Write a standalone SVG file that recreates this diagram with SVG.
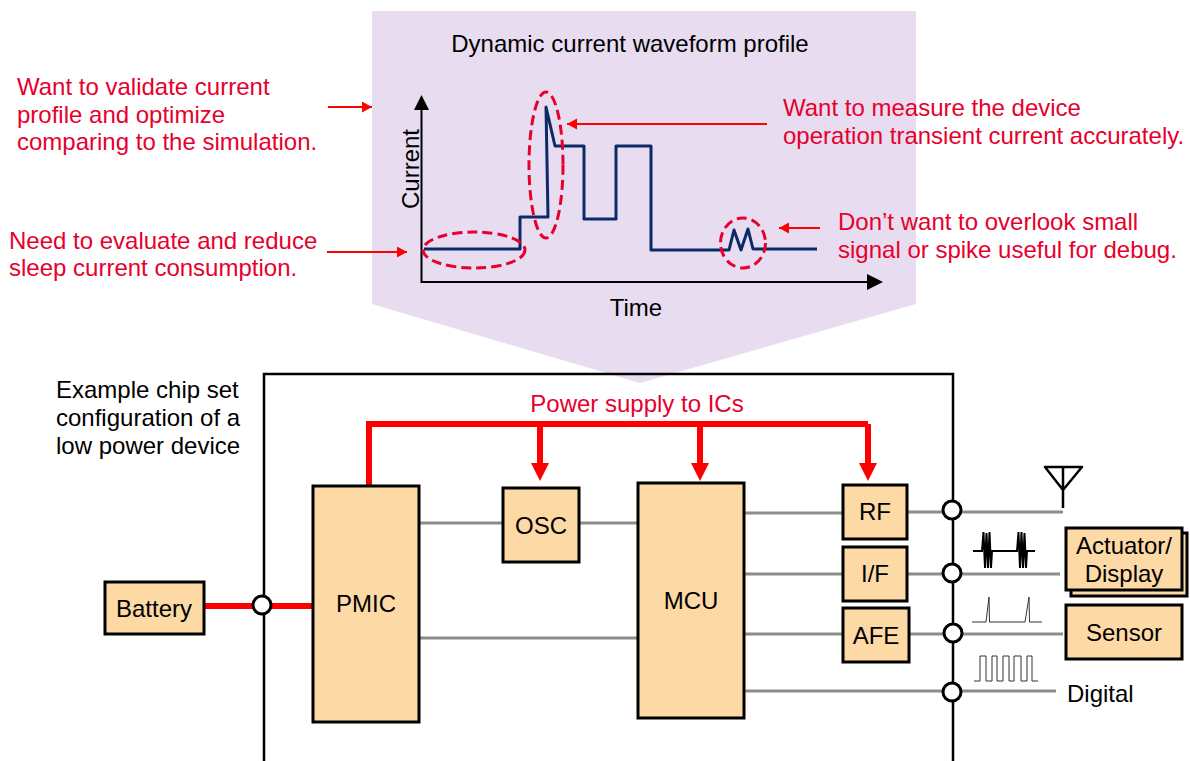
<svg xmlns="http://www.w3.org/2000/svg" width="1190" height="761" viewBox="0 0 1190 761">
<style>
text{font-family:"Liberation Sans",Arial,sans-serif;font-size:24px;fill:#000}
.r{fill:#e6002d}
.m{text-anchor:middle}
.box{fill:#fdd9a6;stroke:#000;stroke-width:3}
.g{stroke:#8c8c8c;stroke-width:3;fill:none}
.pw{stroke:#ff0000;stroke-width:6;fill:none}
.tr{stroke:#ff0000;stroke-width:2;fill:none}
.el{fill:none;stroke:#e6002d;stroke-width:3;stroke-dasharray:10 5}
.c{fill:#fff;stroke:#000;stroke-width:3}
.s{stroke:#333;stroke-width:1;fill:none}
</style>
<defs>
<marker id="ra" markerUnits="userSpaceOnUse" markerWidth="12" markerHeight="12" refX="10" refY="5.500" orient="auto"><path d="M0 0L10 5.500L0 11Z" fill="#ff0000"/></marker>
</defs>
<g id="callout"><polygon points="372,11 916,11 916,304 640,383 372,304" fill="#e8dcf0"/></g>
<g id="chip-boundary"><path d="M264 761V374H953V761" fill="none" stroke="#000" stroke-width="2.500"/></g>
<g id="chart">
<path d="M421.500 108V282H870" fill="none" stroke="#000" stroke-width="2"/>
<polygon points="421.500,95 429,110 414,110" fill="#000"/>
<polygon points="883,282 867,274 867,290" fill="#000"/>
<path d="M424 249H520V217H548L546 107L555 146H584V219H616V146H651V250H729L734 230L741 250L748 229L753 249H817" fill="none" stroke="#0c2a66" stroke-width="3" stroke-linejoin="round"/>
<ellipse class="el" cx="474" cy="250" rx="51" ry="18"/>
<ellipse class="el" cx="546" cy="165" rx="17" ry="73"/>
<ellipse class="el" cx="743" cy="243" rx="22.500" ry="25"/>
<text class="m" transform="translate(419,169) rotate(-90)">Current</text>
<text class="m" x="636" y="316">Time</text>
<text class="m" x="630" y="52">Dynamic current waveform profile</text>
</g>
<g id="annotations">
<text class="r" x="17" y="95">Want to validate current</text>
<text class="r" x="17" y="123">profile and optimize</text>
<text class="r" x="17" y="150">comparing to the simulation.</text>
<text class="r" x="9" y="249">Need to evaluate and reduce</text>
<text class="r" x="9" y="276">sleep current consumption.</text>
<text class="r" x="783" y="116">Want to measure the device</text>
<text class="r" x="783" y="144">operation transient current accurately.</text>
<text class="r" x="838" y="230">Don’t want to overlook small</text>
<text class="r" x="838" y="258">signal or spike useful for debug.</text>
<text x="56" y="398">Example chip set</text>
<text x="56" y="426">configuration of a</text>
<text x="56" y="454">low power device</text>
<text class="r m" x="637" y="412">Power supply to ICs</text>
</g>
<g id="connectors">
<path class="tr" d="M328 107H372" marker-end="url(#ra)"/>
<path class="tr" d="M327 252H407" marker-end="url(#ra)"/>
<path class="tr" d="M767 124H567" marker-end="url(#ra)"/>
<path class="tr" d="M820 228H779" marker-end="url(#ra)"/>
<path class="g" d="M420 523H503M579 523H638M420 638H638M745 513H843M745 574H843M745 634H843M745 691H945M908 512H1063M908 574H1060M910 634H1063M959 691H1056"/>
<path class="pw" d="M205 606H313"/>
<path class="pw" d="M369 486V424H868M540 424V465M700 424V465M868 424V465"/>
<polygon points="531,463 549,463 540,481" fill="#ff0000"/>
<polygon points="691,463 709,463 700,481" fill="#ff0000"/>
<polygon points="859,463 877,463 868,481" fill="#ff0000"/>
</g>
<g id="battery"><rect class="box" x="105" y="582" width="99" height="52"/><text class="m" x="154" y="617">Battery</text></g>
<g id="pmic"><rect class="box" x="313" y="486" width="106" height="236"/><text class="m" x="366" y="612">PMIC</text></g>
<g id="osc"><rect class="box" x="503" y="488" width="76" height="74"/><text class="m" x="541" y="534">OSC</text></g>
<g id="mcu"><rect class="box" x="638" y="483" width="106" height="235"/><text class="m" x="691" y="609">MCU</text></g>
<g id="rf"><rect class="box" x="843" y="485" width="64" height="54"/><text class="m" x="875" y="520">RF</text></g>
<g id="if"><rect class="box" x="843" y="547" width="64" height="54"/><text class="m" x="875" y="582">I/F</text></g>
<g id="afe"><rect class="box" x="843" y="608" width="66" height="54"/><text class="m" x="876" y="644">AFE</text></g>
<g id="actuator"><rect class="box" x="1071" y="533" width="116" height="63"/><rect class="box" x="1066" y="528" width="116" height="62"/><text class="m" x="1124" y="554">Actuator/</text><text class="m" x="1124" y="582">Display</text></g>
<g id="sensor"><rect class="box" x="1066" y="605" width="116" height="54"/><text class="m" x="1124" y="641">Sensor</text></g>
<g id="digital"><text x="1067" y="702">Digital</text></g>
<g id="antenna"><path d="M1045 467H1082L1063 490ZM1063 467V508" fill="none" stroke="#000" stroke-width="2.500" stroke-linejoin="round"/></g>
<g id="ports">
<circle class="c" cx="262" cy="605" r="9"/>
<circle class="c" cx="952" cy="510" r="9"/>
<circle class="c" cx="952" cy="573" r="9"/>
<circle class="c" cx="953" cy="633" r="9"/>
<circle class="c" cx="952" cy="692" r="9"/>
</g>
<g id="signals">
<path d="M973 551H982L983.500 532L985 568L986.500 533L988 568L989.500 532L991 568L992 551H1017L1018.500 532L1020 568L1021.500 532L1023 568L1024.500 533L1026 568L1027 551H1035" fill="none" stroke="#000" stroke-width="2"/>
<path class="s" d="M972 622H986L989 597L989.500 622H1025L1029 597L1029.500 622H1042"/>
<path class="s" d="M974 681H980V656H986V681H992V656H997V681H1003V656H1009V681H1014V656H1021V681H1027V656H1032V681H1038"/>
</g>
</svg>
